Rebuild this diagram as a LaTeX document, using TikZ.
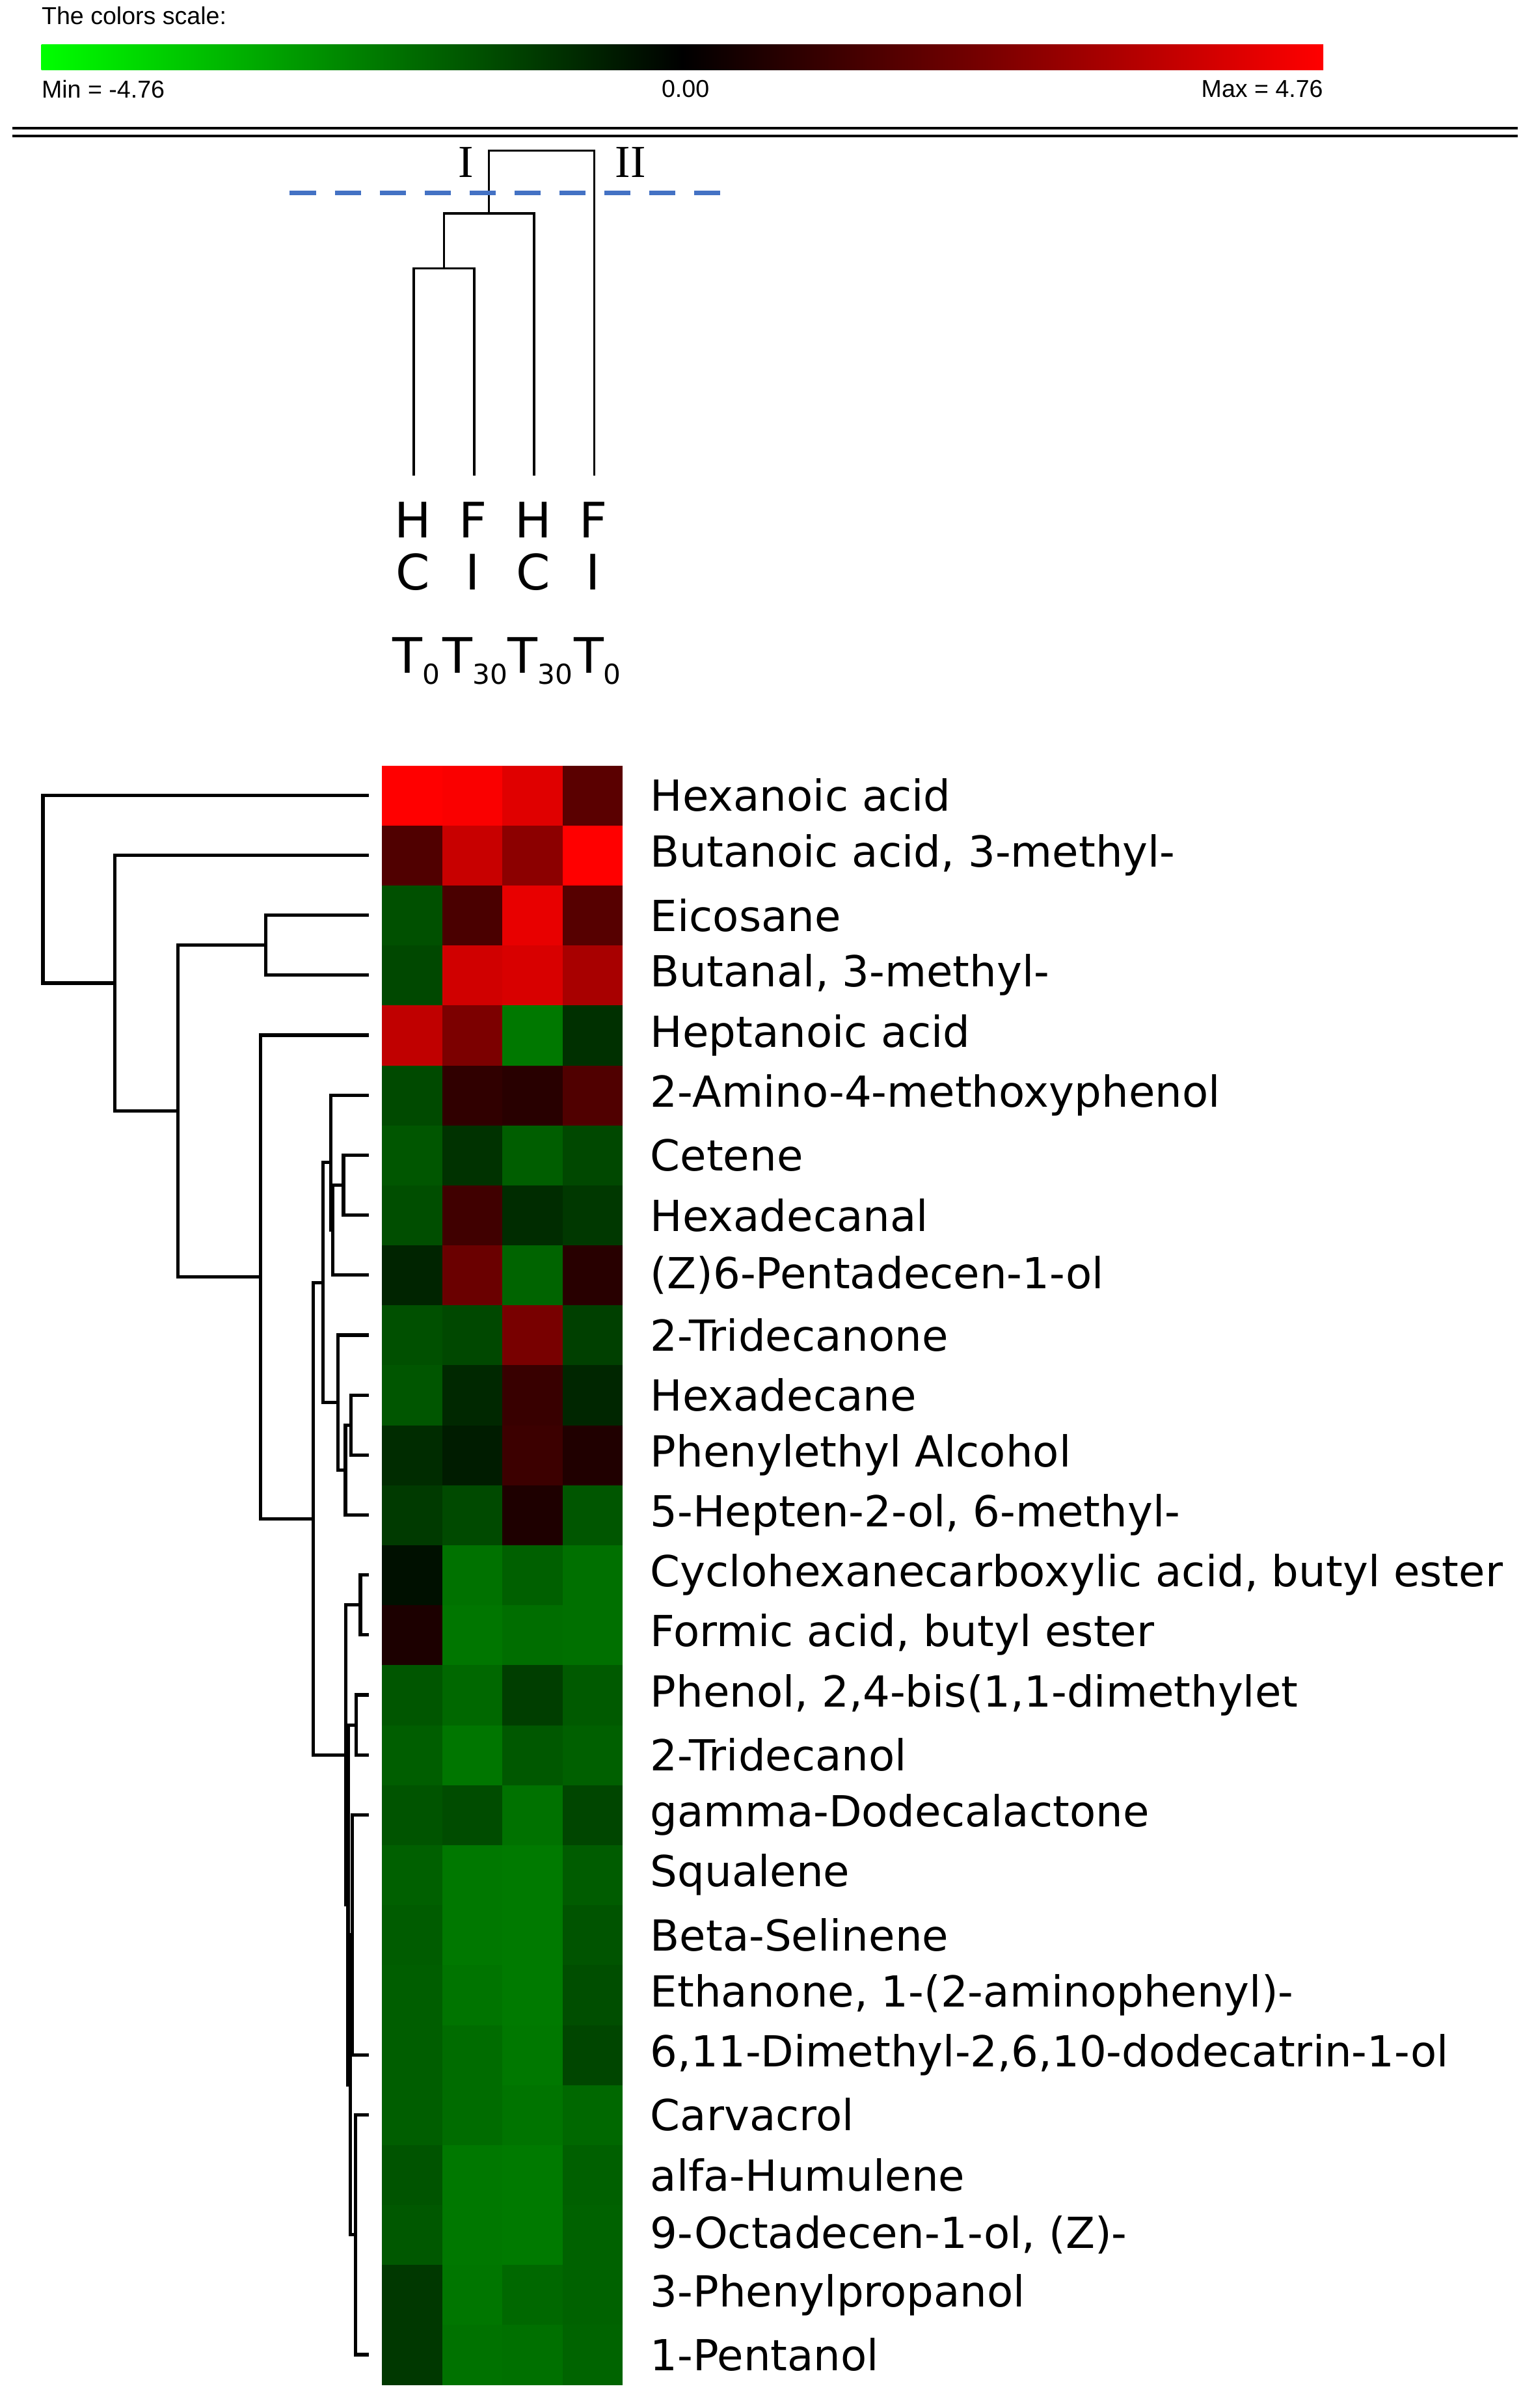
\documentclass[tikz,border=0pt]{standalone}
\usepackage{fontspec}
\setmainfont{DejaVu Sans}
\newfontfamily\hdrfont{Liberation Sans}
\newfontfamily\romfont{Liberation Serif}
\usetikzlibrary{calc}
\definecolor{dashblue}{HTML}{4472C4}
\definecolor{pgreen}{HTML}{00FF00}
\definecolor{pred}{HTML}{FF0000}
\tikzset{
  dline/.style={line width=2.2bp, black},
  cline/.style={line width=1.5bp, black},
  cell/.style={inner sep=0pt, minimum width=39.25bp, minimum height=39.11bp, draw=none, anchor=north west},
  rowlab/.style={anchor=west, inner sep=0pt, font=\fontsize{28}{30}\selectfont},
  collab/.style={inner sep=0pt, font=\fontsize{32}{34}\selectfont},
  hdr/.style={inner sep=0pt, font=\hdrfont\fontsize{16}{18}\selectfont},
}
\newcommand\dendjoin[4]{%
  \coordinate (#1m) at ($(#3)!0.5!(#4)$);
  \coordinate (#1x) at (#2,0);
  \coordinate (#1) at (#1x |- #1m);
  \draw[dline] (#3) -| (#1) |- (#4);}
\newcommand\coljoin[4]{%
  \coordinate (#1m) at ($(#3)!0.5!(#4)$);
  \coordinate (#1y) at (0,#2);
  \coordinate (#1) at (#1m |- #1y);
  \draw[cline] (#3) |- (#1) -| (#4);}
\begin{document}
\begin{tikzpicture}[x=1bp,y=-1bp]
\useasboundingbox[fill=white] (0,0) rectangle (1000,1570.2);
% colour scale
\node[hdr, anchor=north west] (title) at (27,4) {The colors scale:};
\shade[left color=pgreen, right color=pred, middle color=black] (27,29) rectangle (863,45.5);
\coordinate (barL) at (27,45.5);
\node[hdr, anchor=north west] (minl) at (27,52) {Min = -4.76};
\node[hdr, anchor=north] (zerol) at (447,52) {0.00};
\node[hdr, anchor=north east] (maxl) at (863,52) {Max = 4.76};
\draw[line width=1.6bp] (8,83.7) -- (990,83.7);
\draw[line width=1.6bp] (8,88.7) -- (990,88.7);
% column dendrogram
\coordinate (c0) at (269.8,310);
\coordinate (c1) at (309.2,310);
\coordinate (c2) at (348.3,310);
\coordinate (c3) at (387.5,310);
\coljoin{P1}{175}{c0}{c1}
\coljoin{P2}{139.2}{P1}{c2}
\coljoin{P3}{98.3}{P2}{c3}
\draw[dashblue, line width=3bp, dash pattern=on 17bp off 12.3bp] (189,125.6) -- (471.4,125.6);
\node[inner sep=0pt, font=\romfont\fontsize{30}{30}\selectfont] (cI) at (303.7,106) {I};
\node[inner sep=0pt, font=\romfont\fontsize{30}{30}\selectfont] (cII) at (411.3,106) {II};
\foreach \x/\a/\b [count=\k] in {269.2/H/C,308.4/F/I,347.6/H/C,386.8/F/I}{
  \node[collab] (lab1-\k) at (\x,339) {\a};
  \node[collab] (lab2-\k) at (\x,373) {\b};
}
\foreach \x/\s [count=\k] in {256/0,288.5/30,331/30,374/0}{
  \node[collab, anchor=base west] (labT-\k) at (\x,439) {T\raisebox{-7bp}{\fontsize{18}{18}\selectfont\s}};
}
% heatmap + labels
\foreach \a/\b/\c/\d/\lab [count=\i from 0] in {
FF0000/FA0000/E00000/5A0000/{Hexanoic acid},
500000/C80000/8C0000/FF0000/{Butanoic acid, 3-methyl-},
005000/4A0000/E80000/560000/{Eicosane},
004800/D00000/D80000/A80000/{Butanal, 3-methyl-},
C00000/7C0000/007800/003000/{Heptanoic acid},
004A00/300000/280000/500000/{2-Amino-4-methoxyphenol},
005600/003200/005E00/004800/{Cetene},
004E00/400000/002C00/003800/{Hexadecanal},
002400/6A0000/006400/280000/{(Z)6-Pentadecen-1-ol},
005000/004800/780000/004000/{2-Tridecanone},
005600/002800/380000/002600/{Hexadecane},
002C00/001C00/3C0000/200000/{Phenylethyl Alcohol},
003A00/004A00/1E0000/005600/{5-Hepten-2-ol, 6-methyl-},
001000/007200/006000/007000/{Cyclohexanecarboxylic acid, butyl ester},
1C0000/007600/006E00/007000/{Formic acid, butyl ester},
005600/006800/003E00/005A00/{Phenol, 2,4-bis(1,1-dimethylet},
005E00/007600/005800/006000/{2-Tridecanol},
005400/004C00/007200/004600/{gamma-Dodecalactone},
006000/007800/007A00/005C00/{Squalene},
005C00/007800/007A00/005400/{Beta-Selinene},
005E00/007400/007A00/004E00/{Ethanone, 1-(2-aminophenyl)-},
005E00/006C00/007800/004600/{6,11-Dimethyl-2,6,10-dodecatrin-1-ol},
005E00/006C00/007400/006800/{Carvacrol},
005400/007800/007A00/006000/{alfa-Humulene},
005800/007800/007A00/006200/{9-Octadecen-1-ol, (Z)-},
003800/007600/006800/006200/{3-Phenylpropanol},
003800/007200/007000/006400/{1-Pentanol}}{
  \pgfmathsetmacro\yt{499+39.11*\i}
  \pgfmathsetmacro\yc{499+39.11*(\i+0.5)}
  \definecolor{ca}{HTML}{\a}\definecolor{cb}{HTML}{\b}
  \definecolor{cc}{HTML}{\c}\definecolor{cd}{HTML}{\d}
  \node[cell, fill=ca] (h\i-0) at (249,\yt) {};
  \node[cell, fill=cb] (h\i-1) at (288.25,\yt) {};
  \node[cell, fill=cc] (h\i-2) at (327.5,\yt) {};
  \node[cell, fill=cd] (h\i-3) at (366.75,\yt) {};
  \node[rowlab] (lab\i) at (424,\yc) {\lab};
  \coordinate (r\i) at (240.5,\yc);
}
% row dendrogram
\dendjoin{D}{173.4}{r2}{r3}
\dendjoin{Gic}{224}{r6}{r7}
\dendjoin{Gib}{217}{Gic}{r8}
\dendjoin{Gi}{215.9}{r5}{Gib}
\dendjoin{Giic}{228.8}{r10}{r11}
\dendjoin{Giib}{225.3}{Giic}{r12}
\dendjoin{Gii}{220.4}{r9}{Giib}
\dendjoin{G}{210.7}{Gi}{Gii}
\dendjoin{Hi}{235}{r13}{r14}
\dendjoin{Hiii}{232.2}{r15}{r16}
\dendjoin{L}{229.8}{r17}{r21}
\dendjoin{M}{231.9}{r22}{r26}
\dendjoin{K}{228.4}{L}{M}
\dendjoin{J}{227}{Hiii}{K}
\dendjoin{H}{225.6}{Hi}{J}
\dendjoin{F}{204.4}{G}{H}
\dendjoin{E}{170}{r4}{F}
\dendjoin{C}{116}{D}{E}
\dendjoin{B}{75}{r1}{C}
\dendjoin{A}{28}{r0}{B}
\end{tikzpicture}
\end{document}
